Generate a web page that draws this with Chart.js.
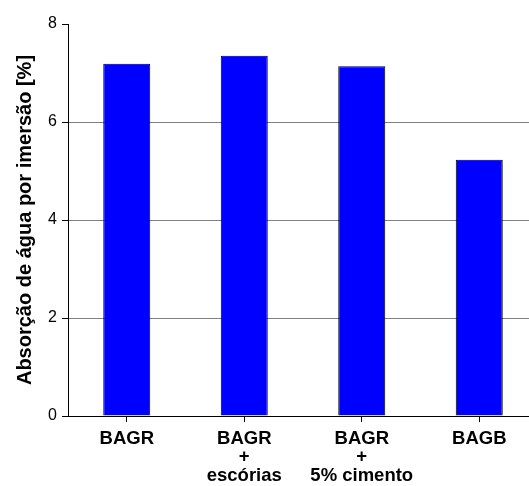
<!DOCTYPE html>
<html>
<head>
<meta charset="utf-8">
<script src="https://cdn.jsdelivr.net/npm/chart.js@4/dist/chart.umd.min.js"></script>
<style>
  html, body { margin: 0; padding: 0; background: #fff; overflow: hidden; }
  #wrap { width: 540px; height: 486px; }
</style>
</head>
<body>
<div id="wrap"><canvas id="c" width="540" height="486"></canvas></div>
<script>
// Water absorption by immersion for each mix
const categories = [
  'BAGR',
  ['BAGR', '+', 'escórias'],
  ['BAGR', '+', '5% cimento'],
  'BAGB'
];
const absorption = [7.19, 7.35, 7.14, 5.23];
const yTicks = [0, 2, 4, 6, 8];
const yTitle = 'Absorção de água por imersão [%]';

const FONT = "'Liberation Sans', Arial, sans-serif";

new Chart(document.getElementById('c'), {
  type: 'bar',
  data: {
    labels: categories,
    datasets: [{
      data: absorption,
      backgroundColor: '#0000FF',
      borderColor: '#000000',
      borderWidth: 1,
      borderSkipped: 'bottom',
      barPercentage: 0.4,
      categoryPercentage: 1.0
    }]
  },
  options: {
    responsive: false,
    animation: false,
    layout: { padding: { top: 24, right: 2, bottom: 0, left: 0 } },
    plugins: { legend: { display: false }, tooltip: { enabled: false } },
    scales: {
      x: {
        grid: {
          display: true,
          drawOnChartArea: false,
          drawTicks: true,
          tickLength: 6,
          tickColor: '#000',
          offset: false
        },
        border: { color: '#000', width: 1 },
        ticks: {
          color: '#000',
          padding: 7,
          maxRotation: 0,
          autoSkip: false,
          font: { family: FONT, size: 18.5, weight: 'bold', lineHeight: 1.02 }
        },
        afterFit(s) { s.height = 70; }
      },
      y: {
        min: 0,
        max: 8,
        afterBuildTicks(s) { s.ticks = yTicks.map(v => ({ value: v })); },
        grid: {
          color: ctx => (ctx.tick && ctx.tick.value > 0 && ctx.tick.value < 8) ? '#808080' : 'rgba(0,0,0,0)',
          lineWidth: 1,
          drawTicks: true,
          tickLength: 6,
          tickColor: '#000'
        },
        border: { color: '#000', width: 1 },
        ticks: {
          color: '#000',
          padding: 5,
          font: { family: FONT, size: 16 }
        },
        title: {
          display: true,
          text: yTitle,
          color: '#000',
          padding: { top: 13, bottom: 0 },
          font: { family: FONT, size: 20, weight: 'bold' }
        },
        afterFit(s) { s.width = 68; }
      }
    }
  }
});
</script>
</body>
</html>
